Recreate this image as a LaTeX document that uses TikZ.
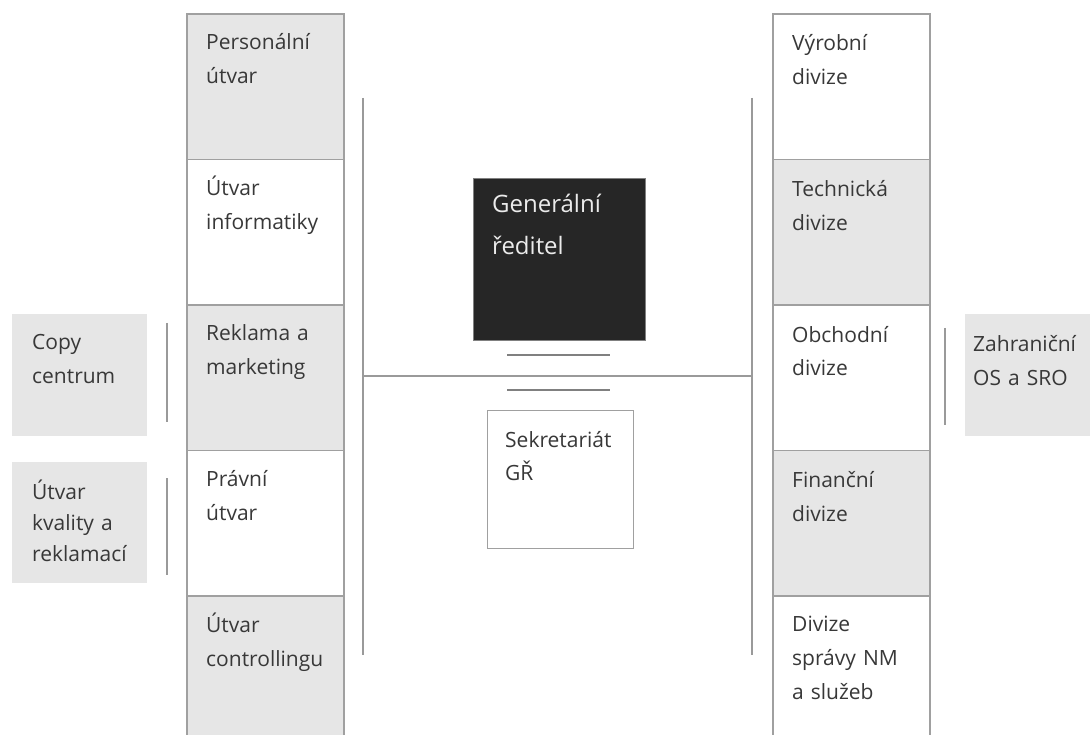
\documentclass[tikz,border=0pt]{standalone}
\usepackage{fontspec}
\setmainfont{Open Sans}
\usepackage{tikz}
\usetikzlibrary{positioning}

\definecolor{boxgray}{HTML}{A0A0A0}
\definecolor{cellgray}{HTML}{E6E6E6}
\definecolor{textgray}{HTML}{383838}
\definecolor{linegray}{HTML}{9A9A9A}
\definecolor{darkbox}{HTML}{262626}

\tikzset{
    unit/.style={
           rectangle,
           draw=boxgray, line width=1.3pt,
           minimum width=157pt,
           minimum height=145.5pt,
           inner sep=0pt,
           outer sep=0pt,
           },
}
\tikzset{
    side/.style={
           rectangle,
           fill=cellgray,
           minimum width=135pt,
           minimum height=122pt,
           inner sep=0pt,
           anchor=north west,
           },
}
\tikzset{
    caption/.style={
           anchor=base west,
           text width=135pt,
           align=left,
           inner sep=0pt,
           text=textgray,
           font=\fontsize{21}{34}\selectfont,
           },
    link/.style={draw=linegray, line width=1.3pt},
}

\begin{document}
\begin{tikzpicture}[x=1pt,y=-1pt]

 \useasboundingbox (0,0) rectangle (1090,735);

 % left column
 \node[unit,fill=cellgray,anchor=north west] (pers) at (187,14) {};
 \node[unit,fill=white,below=0pt of pers] (info) {};
 \node[unit,fill=cellgray,below=0pt of info] (rekl) {};
 \node[unit,fill=white,below=0pt of rekl] (prav) {};
 \node[unit,fill=cellgray,below=0pt of prav] (ctrl) {};

 \node[caption] (pers-t) at ([shift={(19pt,-36pt)}]pers.north west) {Personální\\útvar};
 \node[caption] (info-t) at ([shift={(19pt,-36pt)}]info.north west) {Útvar\\informatiky};
 \node[caption] (rekl-t) at ([shift={(19pt,-36pt)}]rekl.north west) {Reklama a\\marketing};
 \node[caption] (prav-t) at ([shift={(19pt,-36pt)}]prav.north west) {Právní\\útvar};
 \node[caption] (ctrl-t) at ([shift={(19pt,-36pt)}]ctrl.north west) {Útvar\\controllingu};

 % right column
 \node[unit,fill=white,anchor=north west] (vyr) at (773,14) {};
 \node[unit,fill=cellgray,below=0pt of vyr] (tech) {};
 \node[unit,fill=white,below=0pt of tech] (obch) {};
 \node[unit,fill=cellgray,below=0pt of obch] (fin) {};
 \node[unit,fill=white,below=0pt of fin] (nm) {};

 \node[caption] (vyr-t) at ([shift={(19pt,-37pt)}]vyr.north west) {Výrobní\\divize};
 \node[caption] (tech-t) at ([shift={(19pt,-37pt)}]tech.north west) {Technická\\divize};
 \node[caption] (obch-t) at ([shift={(19pt,-37pt)}]obch.north west) {Obchodní\\divize};
 \node[caption] (fin-t) at ([shift={(19pt,-37pt)}]fin.north west) {Finanční\\divize};
 \node[caption] (nm-t) at ([shift={(19pt,-35pt)}]nm.north west) {Divize\\správy NM\\a služeb};

 % side units
 \node[side] (copy) at (12,314) {};
 \node[side,minimum height=121pt] (kval) at (12,462) {};
 \node[side] (zahr) at (965,314) {};

 \node[caption] (copy-t) at ([shift={(20pt,-36pt)}]copy.north west) {Copy\\centrum};
 \node[caption,font=\fontsize{21}{31}\selectfont] (kval-t) at ([shift={(20pt,-37pt)}]kval.north west) {Útvar\\kvality a\\reklamací};
 \node[caption] (zahr-t) at ([shift={(8pt,-38pt)}]zahr.north west) {Zahraniční\\OS a SRO};

 % general director and secretariat
 \node[rectangle,fill=darkbox,draw=gray,line width=1pt,
  minimum width=172pt,minimum height=162pt,
  anchor=north west] (gr) at (473,178) {};
 \node[caption,text=white!92!black,font=\fontsize{24}{42}\selectfont] (gr-t)
  at ([shift={(19pt,-35pt)}]gr.north west) {Generální\\ředitel};

 \node[rectangle,fill=white,draw=boxgray,line width=1pt,
  minimum width=146pt,minimum height=138pt,
  anchor=north west] (sekr) at (487,410) {};
 \node[caption,font=\fontsize{21}{33}\selectfont] (sekr-t)
  at ([shift={(18pt,-37pt)}]sekr.north west) {Sekretariát\\GŘ};

 % lines
 \coordinate (ls-top) at (363,98);
 \coordinate (ls-bot) at (363,655);
 \coordinate (rs-top) at (752,98);
 \coordinate (rs-bot) at (752,655);
 \coordinate (ls-mid) at (363,376);
 \coordinate (rs-mid) at (752,376);
 \coordinate (up-l) at (507,355);
 \coordinate (up-r) at (610,355);
 \coordinate (lo-l) at (507,390);
 \coordinate (lo-r) at (610,390);
 \coordinate (copy-a) at (167,323);
 \coordinate (copy-b) at (167,422);
 \coordinate (kval-a) at (167,478);
 \coordinate (kval-b) at (167,575);
 \coordinate (zahr-a) at (945,328);
 \coordinate (zahr-b) at (945,425);

 \path[link] (ls-top) -- (ls-bot)
  (rs-top) -- (rs-bot)
  (ls-mid) -- (rs-mid)
  (copy-a) -- (copy-b)
  (kval-a) -- (kval-b)
  (zahr-a) -- (zahr-b);
 \path[link,draw=gray] (up-l) -- (up-r)
  (lo-l) -- (lo-r);

\end{tikzpicture}
\end{document}
